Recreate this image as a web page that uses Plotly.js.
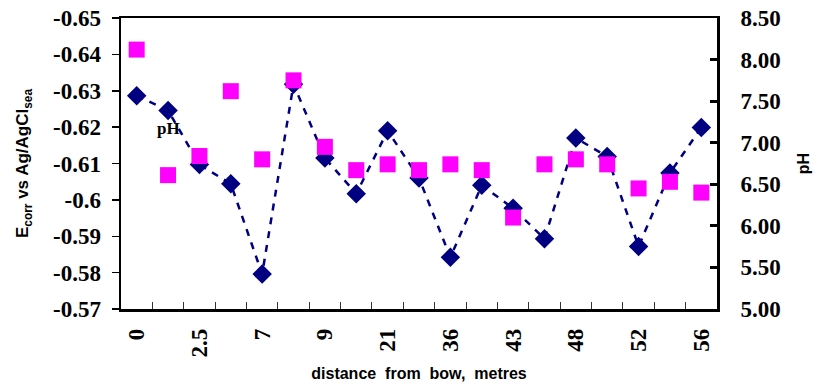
<!DOCTYPE html>
<html>
<head>
<meta charset="utf-8">
<script src="https://cdn.plot.ly/plotly-3.0.1.min.js"></script>
<style>html,body{margin:0;padding:0;background:#fff;}#chart{width:821px;height:389px;}</style>
</head>
<body>
<div id="chart"></div>
<script>
// category positions along the hull (19 measurement points, every other one labelled)
const pointIndex = [0,1,2,3,4,5,6,7,8,9,10,11,12,13,14,15,16,17,18];
const xTickVals = [0,2,4,6,8,10,12,14,16,18];
const xTickText = ['0','2.5','7','9','21','36','43','48','52','56'];

// Ecorr vs Ag/AgCl(sea), V  (diamonds, dashed line, left axis)
const ecorr = [-0.6286,-0.6246,-0.6097,-0.6044,-0.5796,-0.6318,-0.6115,-0.6017,-0.6190,
               -0.6060,-0.5842,-0.6040,-0.5977,-0.5893,-0.6170,-0.6119,-0.5872,-0.6074,-0.6199];
// pH (squares, right axis)
const ph = [8.12,6.61,6.84,7.62,6.80,7.75,6.95,6.67,6.74,
            6.67,6.74,6.67,6.10,6.74,6.80,6.74,6.45,6.53,6.40];

const leftTickVals = [-0.65,-0.64,-0.63,-0.62,-0.61,-0.6,-0.59,-0.58,-0.57];
const leftTickText = ['-0.65','-0.64','-0.63','-0.62','-0.61','-0.6','-0.59','-0.58','-0.57'];
const rightTickVals = [5.0,5.5,6.0,6.5,7.0,7.5,8.0,8.5];
const rightTickText = ['5.00','5.50','6.00','6.50','7.00','7.50','8.00','8.50'];

const serif = {family: 'Liberation Serif, Times New Roman, serif', size: 23, color: '#000', weight: 'bold'};
const sans = {family: 'Liberation Sans, Arial, sans-serif', size: 16, color: '#000', weight: 'bold'};

const traces = [
  {
    x: pointIndex, y: ph, yaxis: 'y2', type: 'scatter', mode: 'markers', name: 'pH',
    marker: {symbol: 'square', size: 16, color: '#FF00FF'}
  },
  {
    x: pointIndex, y: ecorr, yaxis: 'y', type: 'scatter', mode: 'lines+markers', name: 'Ecorr',
    line: {color: '#000080', width: 2.5, dash: '7px,7px'},
    marker: {symbol: 'diamond', size: 15, color: '#000080'}
  },
  {
    // invisible helper so the boundary tick axis exists
    x: pointIndex, y: ecorr, xaxis: 'x2', yaxis: 'y', type: 'scatter', mode: 'none',
    hoverinfo: 'skip', showlegend: false
  }
];

const layout = {
  width: 821, height: 389,
  margin: {l: 121, r: 104, t: 18, b: 79.5},
  paper_bgcolor: '#fff', plot_bgcolor: '#fff',
  showlegend: false,
  xaxis: {
    range: [-0.5, 18.5], tickmode: 'array', tickvals: xTickVals, ticktext: xTickText,
    tickangle: -90, ticks: '', tickfont: serif, ticklabelstandoff: 8,
    showgrid: false, zeroline: false, showline: true, linecolor: '#000', linewidth: 2.5, mirror: true,
    title: {text: 'distance\u00a0 from\u00a0 bow,\u00a0 metres', font: sans, standoff: 12}
  },
  xaxis2: {
    overlaying: 'x', range: [-0.5, 18.5], tickmode: 'linear', tick0: -0.5, dtick: 1,
    ticks: 'inside', ticklen: 7, tickwidth: 1, tickcolor: '#333', showticklabels: false,
    showgrid: false, zeroline: false, showline: false, side: 'bottom', anchor: 'y'
  },
  yaxis: {
    range: [-0.57, -0.65], tickmode: 'array', tickvals: leftTickVals, ticktext: leftTickText,
    ticks: 'outside', ticklen: 7, tickwidth: 1.5, tickcolor: '#000', tickfont: serif, ticklabelstandoff: 6,
    showgrid: false, zeroline: false, showline: true, linecolor: '#000', linewidth: 2.5,
    title: {text: 'E<sub>corr</sub> vs Ag/AgCl<sub>sea</sub>', font: {family: sans.family, size: 17, color: '#000', weight: 'bold'}, standoff: 20}
  },
  yaxis2: {
    overlaying: 'y', side: 'right', range: [5, 8.5], tickmode: 'array', tickvals: rightTickVals, ticktext: rightTickText,
    ticks: 'inside', ticklen: 7, tickwidth: 3, tickcolor: '#000', tickfont: serif, ticklabelstandoff: 16,
    showgrid: false, zeroline: false, showline: true, linecolor: '#000', linewidth: 3,
    title: {text: 'pH', font: sans, standoff: 18}
  },
  annotations: [
    {x: 1, y: -0.6195, xref: 'x', yref: 'y', text: 'pH', showarrow: false,
     font: {family: serif.family, size: 17, color: '#000', weight: 'bold'}}
  ]
};

Plotly.newPlot('chart', traces, layout, {displayModeBar: false, staticPlot: true});
</script>
</body>
</html>
